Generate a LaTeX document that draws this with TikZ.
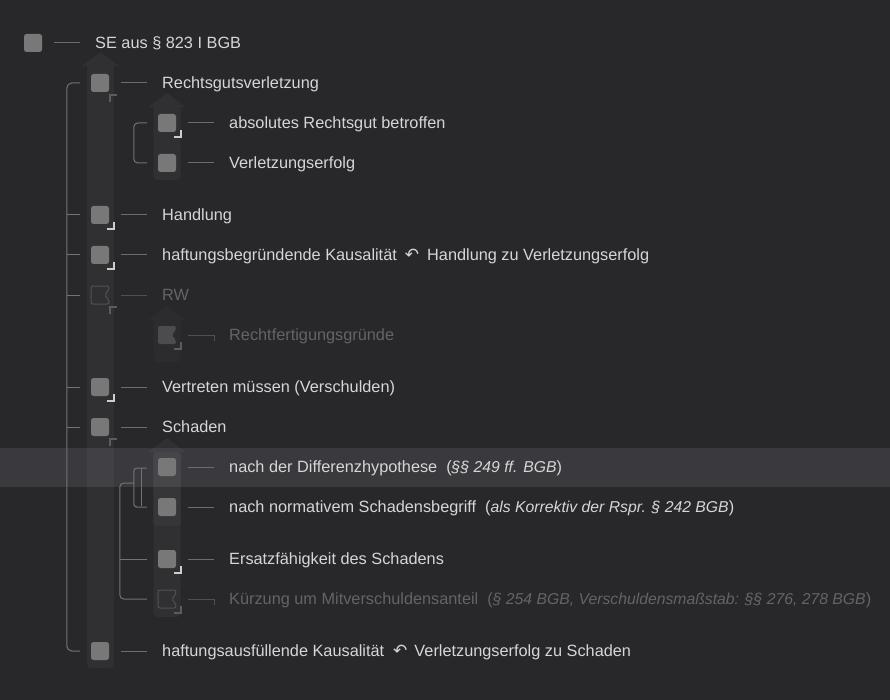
\documentclass[tikz,border=0pt]{standalone}
\usepackage{fontspec}
\setmainfont{Liberation Sans}
\newfontfamily\symfont{DejaVu Sans}
\usetikzlibrary{calc}
\definecolor{bgc}{RGB}{40,40,42}
\definecolor{hlc}{RGB}{58,58,62}
\definecolor{txtc}{RGB}{214,214,214}
\definecolor{dimtxt}{RGB}{100,100,102}
\definecolor{cbfill}{RGB}{120,120,120}
\definecolor{cbdark}{RGB}{76,76,78}
\definecolor{cbline}{RGB}{82,82,84}
\definecolor{lnkc}{RGB}{108,108,110}
\definecolor{dimlnk}{RGB}{80,80,82}
\definecolor{brkc}{RGB}{115,115,117}
\definecolor{brightmk}{RGB}{205,205,205}
\definecolor{dimmk}{RGB}{92,92,94}
\newcommand\colband[4]{%
  \fill[white,fill opacity=#4] ({#1-18.5},{#2+14}) -- (#1,#2) -- ({#1+18.5},{#2+14}) -- ({#1+13.5},{#2+14})
    [rounded corners=4] -- ({#1+13.5},#3) -- ({#1-13.5},#3) [sharp corners] -- ({#1-13.5},{#2+14}) -- cycle;}
\newcommand\notchbox[2]{\path[#2,rounded corners=2] ($(#1)+(9,-5)$) -- ($(#1)+(9,-9)$) -- ($(#1)+(-9,-9)$) -- ($(#1)+(-9,9)$) -- ($(#1)+(9,9)$) -- ($(#1)+(9,5)$) -- ($(#1)+(4.5,0)$) -- cycle;}
\newcommand\brmark[2]{\draw[#2] ($(#1)+(7,14)$) -- ($(#1)+(14,14)$) -- ($(#1)+(14,7)$);}
\newcommand\tlmark[2]{\draw[#2] ($(#1)+(10,19)$) -- ($(#1)+(10,12)$) -- ($(#1)+(17,12)$);}
\newcommand\mkrow[6]{% name, cx, cy, cb style, text style, text
  \node[#4] (c#1) at (#2,#3) {};
  \node[txt,#5] (t#1) at ({#2+62},{#3+5.5}) {#6};}
\newcommand\lnk[1]{\draw[lnkline] ($(c#1.east)+(12,0)$) -- ($(c#1.east -| t#1.west)+(-15,0)$);}
\newcommand\lnkdim[1]{\draw[dimline] ($(c#1.east)+(12,0)$) -- ($(c#1.east -| t#1.west)+(-15,0)$) -- ++(0,6);}
\newcommand\undo{{\symfont\fontsize{17}{17}\selectfont ↶}}
\newcommand\note[1]{({\fontsize{15.75}{19}\selectfont\itshape #1})}
\begin{document}
\begin{tikzpicture}[x=1pt,y=-1pt,
  cb/.style={fill=cbfill,rounded corners=2.5pt,minimum size=18pt,inner sep=0pt,draw=none},
  cbghost/.style={minimum size=18pt,inner sep=0pt,draw=none},
  txt/.style={anchor=base west,inner sep=0pt,text=txtc,font=\fontsize{16.3}{19}\selectfont},
  dimt/.style={text=dimtxt},
  lnkline/.style={draw=lnkc,line width=1pt},
  dimline/.style={draw=dimlnk,line width=1pt},
  brk/.style={draw=brkc,line width=1pt},
  bright/.style={draw=brightmk,line width=1.5pt},
  dimm/.style={draw=dimmk,line width=1.3pt}]
\fill[bgc] (0,0) rectangle (890,700);
\useasboundingbox (0,0) rectangle (890,700);
% highlighted row
\fill[hlc] (0,448) rectangle (890,487);
% column bands
\colband{100.5}{52}{668}{0.04}
\colband{167}{93}{180}{0.04}
\colband{167}{306}{362}{0.018}
\colband{167}{438}{617}{0.04}
\fill[white,fill opacity=0.03,rounded corners=4] (153,452) rectangle (181,526);
% rows
\mkrow{0}{33}{43}{cb}{}{SE aus § 823 I BGB}
\mkrow{1}{100}{83}{cb}{}{Rechtsgutsverletzung}
\mkrow{2}{167}{123}{cb}{}{absolutes Rechtsgut betroffen}
\mkrow{3}{167}{163}{cb}{}{Verletzungserfolg}
\mkrow{4}{100}{215}{cb}{}{Handlung}
\mkrow{5}{100}{255}{cb}{}{haftungsbegründende Kausalität\hspace{8pt}\undo\hspace{8pt}Handlung zu Verletzungserfolg}
\mkrow{6}{100}{295}{cbghost}{dimt}{RW}
\mkrow{7}{167}{335}{cbghost}{dimt}{Rechtfertigungsgründe}
\mkrow{8}{100}{387}{cb}{}{Vertreten müssen (Verschulden)}
\mkrow{9}{100}{427}{cb}{}{Schaden}
\mkrow{10}{167}{467}{cb}{}{nach der Differenzhypothese\hspace{9pt}\note{§§ 249 ff. BGB}}
\mkrow{11}{167}{507}{cb}{}{nach normativem Schadensbegriff\hspace{9pt}\note{als Korrektiv der Rspr. § 242 BGB}}
\mkrow{12}{167}{559}{cb}{}{Ersatzfähigkeit des Schadens}
\mkrow{13}{167}{599}{cbghost}{dimt}{Kürzung um Mitverschuldensanteil\hspace{9pt}\note{§ 254 BGB, Verschuldensmaßstab: §§ 276, 278 BGB}}
\mkrow{14}{100}{651}{cb}{}{haftungsausfüllende Kausalität\hspace{9pt}\undo\hspace{7pt}Verletzungserfolg zu Schaden}
% disabled checkboxes
\notchbox{c6}{draw=cbline,line width=1pt}
\notchbox{c7}{fill=cbdark}
\notchbox{c13}{draw=cbline,line width=1pt}
% link lines
\lnk{0}\lnk{1}\lnk{2}\lnk{3}\lnk{4}\lnk{5}\lnk{8}\lnk{9}\lnk{10}\lnk{11}\lnk{12}\lnk{14}
\draw[dimline] ($(c6.east)+(12,0)$) -- ($(c6.east -| t6.west)+(-15,0)$);
\lnkdim{7}\lnkdim{13}
% brackets level 1
\draw[brk,rounded corners=5] ($(c1.west)+(-11,0)$) -- ($(c1.west)+(-24,0)$) |- ($(c14.west)+(-11,0)$);
\foreach \n in {4,5,6,8,9}{\draw[brk] ($(c\n.west)+(-24,0)$) -- ($(c\n.west)+(-11,0)$);}
% bracket under Rechtsgutsverletzung
\draw[brk,rounded corners=4] ($(c2.west)+(-11,0)$) -- ($(c2.west)+(-24,0)$) |- ($(c3.west)+(-11,0)$);
% brackets under Schaden
\draw[brk,rounded corners=3] ($(c10.west)+(-11,1)$) -- ($(c10.west)+(-24,1)$) |- ($(c11.west)+(-11,0)$);
\draw[brk] ($(c10.west)+(-16,1)$) -- ($(c11.west)+(-16,-1)$);
\draw[brk,rounded corners=4] ($(c10.west)+(-24,16)$) -- ($(c10.west)+(-38,16)$) |- ($(c13.west)+(-11,0)$);
\draw[brk] ($(c12.west)+(-38,0)$) -- ($(c12.west)+(-11,0)$);
% corner marks
\tlmark{c1}{dimm}
\brmark{c2}{bright}
\brmark{c4}{bright}
\brmark{c5}{bright}
\tlmark{c6}{dimm}
\brmark{c7}{dimm}
\brmark{c8}{bright}
\tlmark{c9}{dimm}
\brmark{c12}{bright}
\brmark{c13}{dimm}
\end{tikzpicture}
\end{document}
